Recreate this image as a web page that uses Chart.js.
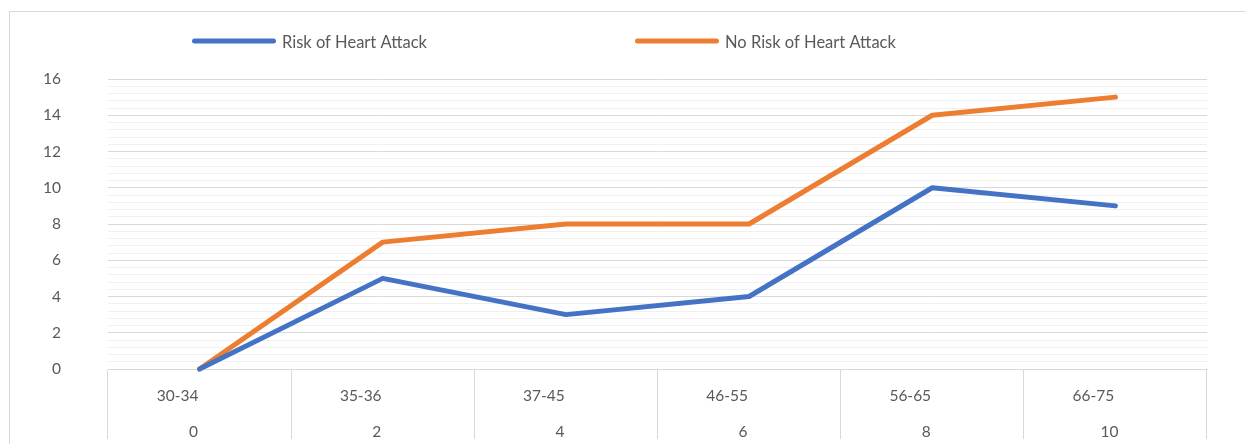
<!DOCTYPE html>
<html>
<head>
<meta charset="utf-8">
<title>Heart attack risk by age group</title>
<script src="https://cdn.jsdelivr.net/npm/chart.js@4/dist/chart.umd.min.js"></script>
<style>
    html, body { margin: 0; padding: 0; background: #fff; overflow: hidden; }
    #frame {
        position: absolute; left: 9px; top: 11px;
        width: 1400px; height: 600px;
        border: 1px solid #d9d9d9; box-sizing: border-box;
    }
    #wrap { position: absolute; left: 0; top: 0; width: 1246px; height: 444px; }
</style>
</head>
<body>
<div id="frame"></div>
<div id="wrap"><canvas id="heartChart"></canvas></div>
<script>
// Chart data
const ageGroups = ['30-34', '35-36', '37-45', '46-55', '56-65', '66-75'];
const groupNumbers = ['0', '2', '4', '6', '8', '10'];
const riskCounts = [0, 5, 3, 4, 10, 9];
const noRiskCounts = [0, 7, 8, 8, 14, 15];

const TEXT_COLOR = '#595959';
const FONT_FAMILY = 'Lato, "Open Sans", sans-serif';

// Simple line-sample legend drawn above the plot
const lineLegend = {
    id: 'lineLegend',
    afterDraw(chart, args, opts) {
        const ctx = chart.ctx;
        ctx.save();
        chart.data.datasets.forEach((ds, i) => {
            const x = opts.starts[i];
            ctx.strokeStyle = ds.borderColor;
            ctx.lineWidth = 5;
            ctx.lineCap = 'round';
            ctx.beginPath();
            ctx.moveTo(x + 2.5, opts.y);
            ctx.lineTo(x + opts.lineLength - 2.5, opts.y);
            ctx.stroke();

            ctx.fillStyle = TEXT_COLOR;
            ctx.font = '16.5px ' + FONT_FAMILY;
            ctx.textBaseline = 'middle';
            ctx.textAlign = 'left';
            ctx.fillText(ds.label, x + opts.lineLength + 6, opts.y + 2);
        });
        ctx.restore();
    }
};

const isMajor = v => Math.abs(v / 2 - Math.round(v / 2)) < 1e-6;

new Chart(document.getElementById('heartChart').getContext('2d'), {
    type: 'line',
    data: {
        labels: ageGroups,
        datasets: [
            {
                label: 'Risk of Heart Attack',
                data: riskCounts,
                borderColor: '#4472C4',
                backgroundColor: '#4472C4',
                borderWidth: 5,
                borderCapStyle: 'round',
                borderJoinStyle: 'round',
                pointRadius: 0,
                tension: 0,
                clip: false,
                xAxisID: 'x'
            },
            {
                label: 'No Risk of Heart Attack',
                data: noRiskCounts,
                borderColor: '#ED7D31',
                backgroundColor: '#ED7D31',
                borderWidth: 5,
                borderCapStyle: 'round',
                borderJoinStyle: 'round',
                pointRadius: 0,
                tension: 0,
                clip: false,
                xAxisID: 'x'
            }
        ]
    },
    options: {
        responsive: true,
        maintainAspectRatio: false,
        animation: false,
        layout: { padding: { left: 0, right: 39, top: 79, bottom: 0 } },
        plugins: {
            legend: { display: false },
            tooltip: { enabled: false },
            lineLegend: { starts: [192, 635], lineLength: 84, y: 41 }
        },
        scales: {
            x: {
                type: 'category',
                position: 'bottom',
                weight: 0,
                offset: true,
                border: { display: true, color: '#d9d9d9', width: 1 },
                grid: {
                    offset: true,
                    drawOnChartArea: false,
                    drawTicks: true,
                    tickLength: 70,
                    color: '#d9d9d9'
                },
                ticks: {
                    color: TEXT_COLOR,
                    font: { family: FONT_FAMILY, size: 15.5 },
                    padding: -52,
                    labelOffset: -22,
                    maxRotation: 0,
                    autoSkip: false
                },
                afterFit(scale) { scale.height = 44; }
            },
            x2: {
                type: 'category',
                position: 'bottom',
                weight: 1,
                labels: groupNumbers,
                offset: true,
                border: { display: false },
                grid: { display: false, drawTicks: false },
                ticks: {
                    color: TEXT_COLOR,
                    font: { family: FONT_FAMILY, size: 15.5 },
                    padding: 10,
                    labelOffset: -6,
                    maxRotation: 0,
                    autoSkip: false
                },
                afterFit(scale) { scale.height = 31; }
            },
            y: {
                min: 0,
                max: 16,
                border: { display: false },
                grid: {
                    drawTicks: false,
                    lineWidth: 1,
                    color: ctx => isMajor(ctx.tick.value) ? '#d9d9d9' : '#f0f0f0'
                },
                ticks: {
                    stepSize: 0.4,
                    autoSkip: false,
                    padding: 47,
                    color: TEXT_COLOR,
                    font: { family: FONT_FAMILY, size: 15.5 },
                    callback: v => isMajor(v) ? String(Math.round(v)) : ''
                },
                afterFit(scale) { scale.width = 108; }
            }
        }
    },
    plugins: [lineLegend]
});
</script>
</body>
</html>
